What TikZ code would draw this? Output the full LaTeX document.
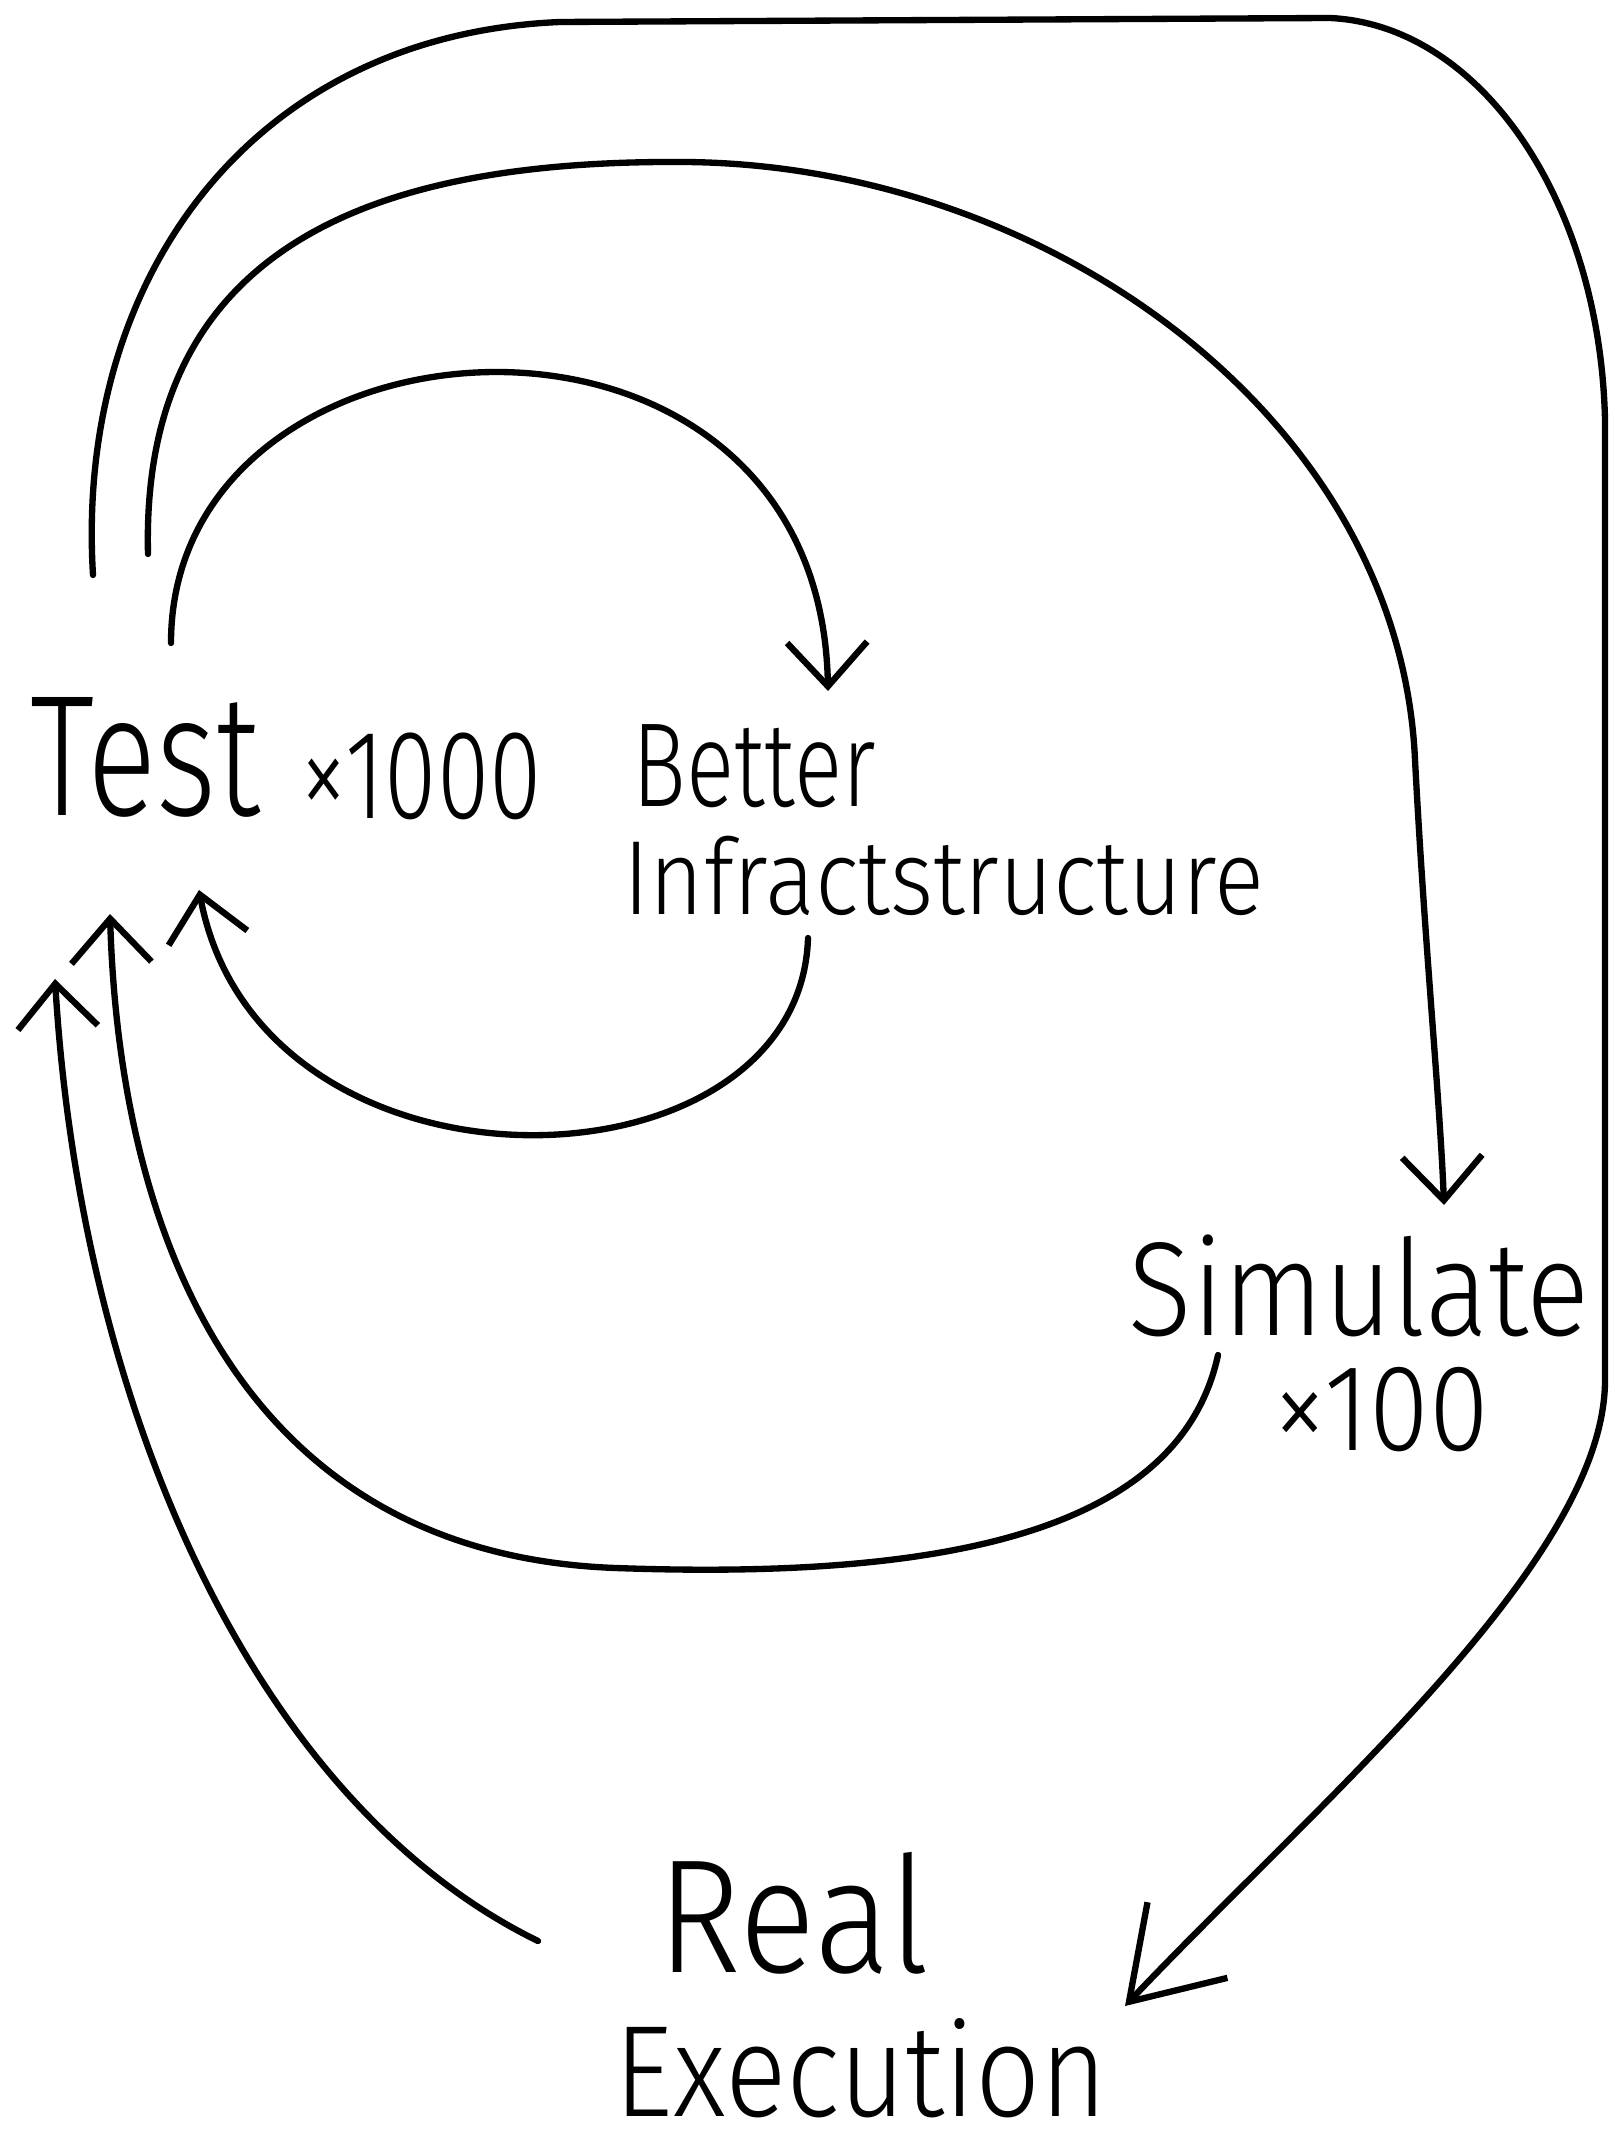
\documentclass[tikz,border=0pt]{standalone}
\usepackage{fontspec}
\newfontfamily\hand[FakeStretch=0.75]{Fira Sans Light}
\newfontfamily\handw[FakeStretch=0.88]{Fira Sans Light}
\usetikzlibrary{arrows.meta}
\begin{document}
\begin{tikzpicture}[x=0.01cm,y=-0.01cm,
  pen/.style={line width=1.8pt, line cap=round, line join=round},
  flow/.style={pen, -{Straight Barb[length=4.4mm,width=8mm]}},
  flowbig/.style={pen, -{Straight Barb[length=8.5mm,width=11mm]}},
  word/.style={inner sep=0pt, anchor=base west, text=black},
]
\useasboundingbox (0,0) rectangle (1614,2146);

% words
\node[word, font=\fontsize{49}{55}\hand] (test) at (30,815) {Test};
\node[word, font=\fontsize{36}{40}\hand] (testn) at (300,818) {×1000};
\node[word, font=\fontsize{34}{38}\hand] (better) at (632,806) {Better};
\node[word, font=\fontsize{30}{36}\handw] (infra) at (623,914) {Infractstructure};
\node[word, font=\fontsize{38}{42}\handw] (sim) at (1128,1335) {Simulate};
\node[word, font=\fontsize{35}{40}\handw] (simn) at (1273,1450) {×100};
\node[word, font=\fontsize{46}{50}\handw] (real) at (657,1972) {Real};
\node[word, font=\fontsize{37}{42}\handw] (exec) at (614,2116) {Execution};

% loose ends of the loops
\coordinate (a1s) at (171,643);  \coordinate (a1e) at (828,691);
\coordinate (a2s) at (808,938);  \coordinate (a2e) at (199,890);
\coordinate (a3s) at (148,554);  \coordinate (a3e) at (1444,1205);
\coordinate (a4s) at (1218,1355); \coordinate (a4e) at (110,914);
\coordinate (a5s) at (93,575);   \coordinate (a5e) at (1125,2006);
\coordinate (a6s) at (538,1941); \coordinate (a6e) at (55,979);

% Test -> Better Infractstructure -> Test
\draw[flow] (a1s) .. controls (171,295) and (820,255) .. (a1e);
\draw[flow] (a2s) .. controls (800,1200) and (260,1215) .. (a2e);

% Test -> Simulate -> Test
\draw[flow] (a3s) .. controls (140,230) and (400,160) .. (685,162)
  .. controls (1050,165) and (1400,420) .. (1415,760)
  .. controls (1425,950) and (1440,1100) .. (a3e);
\draw[flow] (a4s) .. controls (1180,1530) and (950,1580) .. (616,1568)
  .. controls (250,1555) and (120,1250) .. (a4e);

% Test -> Real Execution -> Test
\draw[flowbig] (a5s) .. controls (75,280) and (250,35) .. (560,22)
  -- (1330,18) .. controls (1480,25) and (1600,200) .. (1605,420)
  -- (1605,1380) .. controls (1605,1560) and (1320,1800) .. (a5e);
\draw[flow] (a6s) .. controls (250,1800) and (80,1400) .. (a6e);
\end{tikzpicture}
\end{document}
